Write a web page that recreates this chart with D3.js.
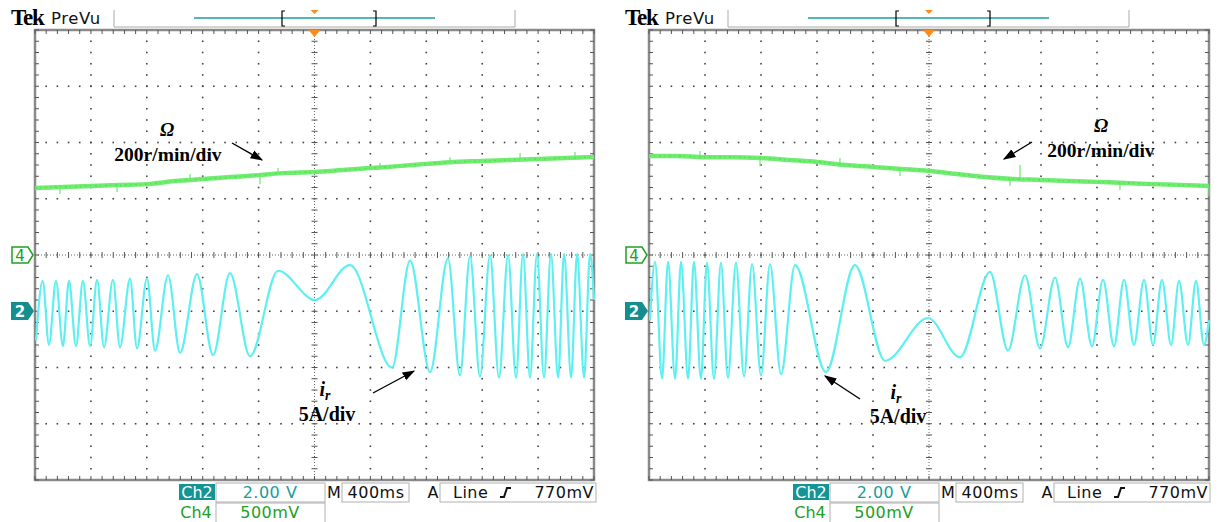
<!DOCTYPE html>
<html><head><meta charset="utf-8">
<script src="https://cdn.jsdelivr.net/npm/d3@7"></script>
<style>body{margin:0;background:#fff;} svg{display:block;}</style>
</head><body>
<svg id="c" width="1218" height="522"></svg>
<script>
// ---------- DATA ----------
// time in ms (400 ms/div, 10 div), speed in r/min (200 r/min/div), current in A (5 A/div)
const speedTimes = [0,200,400,600,800,1000,1200,1400,1600,1800,2000,2200,2400,2600,2800,3000,3200,3400,3600,3800,4000];
const speedLeft  = [238,242,245,249,252,263,270,277,284,292,295,302,309,316,324,331,334,338,341,345,348];
const speedRight = [352,352,348,348,345,338,331,320,313,306,299,288,277,270,267,263,260,256,252,249,245];
const spikeLeftTime  = [179,587,1109,1610,1739,2469,2970,3471,3864];
const spikeLeftVal   = [217,224,288,252,309,327,348,363,366];
const spikeRightTime = [364,793,1364,1793,2579,2650,3364,4000];
const spikeRightVal  = [370,316,345,281,245,320,231,210];

const currentLeftTime = [7,55,100,150,200,243,293,343,394,444,494,558,608,680,730,801,859,952,1038,1159,1274,1395,1539,1739,2004,2254,2555,2684,2827,2955,3041,3113,3184,3256,3320,3385,3442,3492,3542,3592,3642,3692,3743,3786,3836,3879,3929,3972,4000];
const currentLeft     = [-2.6,2.7,-3.0,2.7,-3.1,2.7,-3.1,2.7,-3.1,2.8,-3.2,2.8,-3.2,2.9,-3.3,2.9,-3.5,3.2,-3.7,3.3,-3.9,3.4,-4.0,3.6,1.0,4.1,-5.0,4.5,-5.4,4.7,-5.7,4.9,-5.8,5.0,-5.9,5.0,-5.9,5.1,-5.9,5.1,-5.9,5.1,-5.9,5.1,-5.9,5.1,-5.9,5.1,1.0];
const currentRightTime = [7,43,93,136,186,229,279,321,371,414,464,514,564,621,679,736,800,864,943,1043,1264,1471,1686,1993,2221,2436,2564,2686,2793,2900,2993,3079,3164,3243,3321,3393,3464,3536,3600,3664,3729,3786,3850,3907,3964,4000];
const currentRight     = [-0.8,4.4,-6.0,4.4,-6.0,4.4,-6.0,4.4,-6.0,4.3,-6.0,4.3,-5.9,4.3,-5.8,4.2,-5.7,4.2,-5.6,4.1,-5.4,4.1,-4.4,-0.6,-4.1,3.5,-3.5,3.2,-3.3,3.0,-3.2,2.9,-3.1,2.8,-3.1,2.8,-3.0,2.8,-3.0,2.8,-3.0,2.7,-3.0,2.7,-3.0,-0.8];

const readout = {ch2: "Ch2", ch2Scale: "2.00 V", ch4: "Ch4", ch4Scale: "500mV", time: "400ms", trig: "Line", level: "770mV"};

// ---------- DRAW ----------
const svg = d3.select("#c");
const defs = svg.append("defs");
defs.append("marker").attr("id","ah").attr("viewBox","0 0 10 10").attr("refX",9).attr("refY",5)
  .attr("markerWidth",9).attr("markerHeight",9).attr("orient","auto-start-reverse")
  .append("path").attr("d","M0,1.5 L10,5 L0,8.5 Z").attr("fill","#000");

const panels = [
  {ox:0, x0:35, x1:594, speed:speedLeft, spT:spikeLeftTime, spV:spikeLeftVal, cT:currentLeftTime, cV:currentLeft,
   omega:[167,136], omegaTxt:[168,161], omegaArrow:[[232,143],[262,160]], ir:[325,396], irTxt:[327,421], irArrow:[[373,393],[414,371]]},
  {ox:614, x0:649, x1:1209, speed:speedRight, spT:spikeRightTime, spV:spikeRightVal, cT:currentRightTime, cV:currentRight,
   omega:[1101,132], omegaTxt:[1101,157], omegaArrow:[[1032,142],[1004,159]], ir:[896,399], irTxt:[898,423], irArrow:[[860,399],[825,376]]}
];

const gTop = 30, gBot = 480;
const yDiv = d3.scaleLinear().domain([-4,4]).range([gBot, gTop]);
const yI = d3.scaleLinear().domain([-15,25]).range([gBot, gTop]);   // ground marker 2 at -1 div
const yW = d3.scaleLinear().domain([-800,800]).range([gBot, gTop]); // ground marker 4 at center

panels.forEach(p => {
  const g = svg.append("g");
  const x = d3.scaleLinear().domain([0,4000]).range([p.x0, p.x1]);
  const ox = p.ox;

  // header
  g.append("text").attr("x", 11+ox).attr("y", 25).text("Tek")
    .attr("font-family","Liberation Serif").attr("font-weight","bold").attr("font-size",23).attr("letter-spacing",-1.2);
  g.append("text").attr("x", 51+ox).attr("y", 24).text("PreVu")
    .attr("font-family","DejaVu Sans").attr("font-size",16.5).attr("fill","#111").attr("letter-spacing",0.6);
  g.append("path").attr("d",`M${114+ox},10 V27 H${515+ox} V10`).attr("fill","none").attr("stroke","#aaa").attr("stroke-width",1);
  g.append("line").attr("x1",194+ox).attr("x2",435+ox).attr("y1",18).attr("y2",18).attr("stroke","#1a9c9c").attr("stroke-width",1.5);
  g.append("path").attr("d",`M${285+ox},11 H${282+ox} V26 H${285+ox}`).attr("fill","none").attr("stroke","#000").attr("stroke-width",1.2);
  g.append("path").attr("d",`M${373+ox},11 H${376+ox} V26 H${373+ox}`).attr("fill","none").attr("stroke","#000").attr("stroke-width",1.2);
  g.append("path").attr("d",`M${x(2000)-4},10 H${x(2000)+4} L${x(2000)},14 Z`).attr("fill","#ff8c1a");

  // grid dots
  const majT = d3.range(400, 4000, 400), minT = d3.range(0, 4000.1, 80);
  const majD = d3.range(-3, 4, 1), minD = d3.range(-4, 4.01, 0.2);
  const dots = [];
  majT.filter(t => t !== 2000).forEach(t => minD.forEach(d => dots.push([x(t), yDiv(d)])));
  majD.filter(d => d !== 0).forEach(d => minT.forEach(t => dots.push([x(t), yDiv(d)])));
  g.selectAll(null).data(dots).join("rect")
    .attr("x", d => d[0]-0.8).attr("y", d => d[1]-0.8).attr("width",1.6).attr("height",1.6).attr("fill","#444");

  // center crosshair
  g.append("line").attr("x1",x(2000)).attr("x2",x(2000)).attr("y1",gTop).attr("y2",gBot)
    .attr("stroke","#666").attr("stroke-dasharray","1,2");
  g.append("line").attr("x1",p.x0).attr("x2",p.x1).attr("y1",yDiv(0)).attr("y2",yDiv(0))
    .attr("stroke","#666").attr("stroke-dasharray","1,2");
  g.selectAll(null).data(minD).join("line")
    .attr("x1", x(2000)-3).attr("x2", x(2000)+3).attr("y1", d=>yDiv(d)).attr("y2", d=>yDiv(d)).attr("stroke","#555");
  g.selectAll(null).data(minT).join("line")
    .attr("y1", yDiv(0)-3).attr("y2", yDiv(0)+3).attr("x1", t=>x(t)).attr("x2", t=>x(t)).attr("stroke","#555");

  // frame + border ticks
  g.append("rect").attr("x",p.x0).attr("y",gTop).attr("width",p.x1-p.x0).attr("height",gBot-gTop)
    .attr("fill","none").attr("stroke","#8a8a8a").attr("stroke-width",2.5);
  g.selectAll(null).data(minT).join("line").attr("x1",t=>x(t)).attr("x2",t=>x(t)).attr("y1",gTop).attr("y2",gTop+4).attr("stroke","#555");
  g.selectAll(null).data(minT).join("line").attr("x1",t=>x(t)).attr("x2",t=>x(t)).attr("y1",gBot).attr("y2",gBot-4).attr("stroke","#555");
  g.selectAll(null).data(minD).join("line").attr("y1",d=>yDiv(d)).attr("y2",d=>yDiv(d)).attr("x1",p.x0).attr("x2",p.x0+4).attr("stroke","#555");
  g.selectAll(null).data(minD).join("line").attr("y1",d=>yDiv(d)).attr("y2",d=>yDiv(d)).attr("x1",p.x1).attr("x2",p.x1-4).attr("stroke","#555");

  // trigger marker on graticule
  g.append("path").attr("d",`M${x(2000)-6},${gTop} H${x(2000)+6} L${x(2000)},${gTop+7} Z`).attr("fill","#ff8c1a");

  // channel markers
  g.append("path").attr("d",`M${12+ox},247 H${28+ox} L${33+ox},255 L${28+ox},263 H${12+ox} Z`)
    .attr("fill","#fff").attr("stroke","#22a022").attr("stroke-width",1.5);
  g.append("text").attr("x",20+ox).attr("y",261).attr("text-anchor","middle").text("4")
    .attr("font-family","DejaVu Sans").attr("font-size",15).attr("fill","#22a022");
  g.append("path").attr("d",`M${11+ox},302 H${28+ox} L${34+ox},311 L${28+ox},320 H${11+ox} Z`).attr("fill","#138f8f");
  g.append("text").attr("x",20+ox).attr("y",317).attr("text-anchor","middle").text("2")
    .attr("font-family","DejaVu Sans").attr("font-weight","bold").attr("font-size",15).attr("fill","#fff");

  // speed trace (noisy band)
  const sp = speedTimes.map((t,i)=>[t,p.speed[i]]);
  const lineW = d3.line().x(d=>x(d[0])).y(d=>yW(d[1])).curve(d3.curveMonotoneX);
  g.append("path").attr("d", lineW(sp)).attr("fill","none").attr("stroke","#70ec70").attr("stroke-width",4.5);
  g.append("path").attr("d", lineW(sp)).attr("fill","none").attr("stroke","#55e055").attr("stroke-width",1.5)
    .attr("stroke-dasharray","2,3,1,4");
  const interpW = t => { const i = d3.bisectLeft(speedTimes, t); if (i<=0) return p.speed[0]; if (i>=speedTimes.length) return p.speed[p.speed.length-1];
    const a=speedTimes[i-1], b=speedTimes[i]; return p.speed[i-1] + (p.speed[i]-p.speed[i-1])*(t-a)/(b-a); };
  g.selectAll(null).data(p.spT.map((t,i)=>[t,p.spV[i]])).join("line")
    .attr("x1",d=>x(d[0])).attr("x2",d=>x(d[0])).attr("y1",d=>yW(interpW(d[0]))).attr("y2",d=>yW(d[1]))
    .attr("stroke","#6ce86c").attr("stroke-width",1.2);

  // current trace
  const cur = p.cT.map((t,i)=>[t,p.cV[i]]);
  const lineI = d3.line().x(d=>x(d[0])).y(d=>yI(d[1])).curve(d3.curveMonotoneX);
  g.append("path").attr("d", lineI(cur)).attr("fill","none").attr("stroke","#5ef0f0").attr("stroke-width",2.2);

  // annotations
  const serif = "Liberation Serif";
  g.append("text").attr("x",p.omega[0]).attr("y",p.omega[1]).attr("text-anchor","middle").text("Ω")
    .attr("font-family",serif).attr("font-style","italic").attr("font-weight","bold").attr("font-size",19);
  g.append("text").attr("x",p.omegaTxt[0]).attr("y",p.omegaTxt[1]).attr("text-anchor","middle").text("200r/min/div")
    .attr("font-family",serif).attr("font-weight","bold").attr("font-size",19.5);
  g.append("line").attr("x1",p.omegaArrow[0][0]).attr("y1",p.omegaArrow[0][1]).attr("x2",p.omegaArrow[1][0]).attr("y2",p.omegaArrow[1][1])
    .attr("stroke","#000").attr("stroke-width",1.4).attr("marker-end","url(#ah)");
  const ir = g.append("text").attr("x",p.ir[0]).attr("y",p.ir[1]).attr("text-anchor","middle")
    .attr("font-family",serif).attr("font-style","italic").attr("font-weight","bold").attr("font-size",20);
  ir.append("tspan").text("i");
  ir.append("tspan").text("r").attr("font-size",14).attr("dy",4);
  g.append("text").attr("x",p.irTxt[0]).attr("y",p.irTxt[1]).attr("text-anchor","middle").text("5A/div")
    .attr("font-family",serif).attr("font-weight","bold").attr("font-size",20);
  g.append("line").attr("x1",p.irArrow[0][0]).attr("y1",p.irArrow[0][1]).attr("x2",p.irArrow[1][0]).attr("y2",p.irArrow[1][1])
    .attr("stroke","#000").attr("stroke-width",1.4).attr("marker-end","url(#ah)");

  // readout
  const f = "DejaVu Sans";
  const box = (bx,by,bw,bh) => g.append("rect").attr("x",bx+ox).attr("y",by).attr("width",bw).attr("height",bh)
    .attr("fill","#fff").attr("stroke","#b0b0b0").attr("stroke-width",1);
  g.append("rect").attr("x",179+ox).attr("y",484).attr("width",36).attr("height",16).attr("fill","#149494");
  g.append("text").attr("x",197+ox).attr("y",498).attr("text-anchor","middle").text(readout.ch2)
    .attr("font-family",f).attr("font-size",16).attr("fill","#fff");
  box(216,483,109,19);
  g.append("text").attr("x",270+ox).attr("y",498).attr("text-anchor","middle").text(readout.ch2Scale)
    .attr("font-family",f).attr("font-size",16).attr("fill","#1a9c9c").attr("letter-spacing",0.5);
  g.append("text").attr("x",196+ox).attr("y",518).attr("text-anchor","middle").text(readout.ch4)
    .attr("font-family",f).attr("font-size",16).attr("fill","#22a022");
  box(216,503,109,20);
  g.append("text").attr("x",270+ox).attr("y",518).attr("text-anchor","middle").text(readout.ch4Scale)
    .attr("font-family",f).attr("font-size",16).attr("fill","#22a022").attr("letter-spacing",0.5);
  g.append("text").attr("x",334+ox).attr("y",498).attr("text-anchor","middle").text("M")
    .attr("font-family",f).attr("font-size",16).attr("fill","#111");
  box(342,483,67,19);
  g.append("text").attr("x",376+ox).attr("y",498).attr("text-anchor","middle").text(readout.time)
    .attr("font-family",f).attr("font-size",16).attr("fill","#111").attr("letter-spacing",0.5);
  g.append("text").attr("x",433+ox).attr("y",498).attr("text-anchor","middle").text("A")
    .attr("font-family",f).attr("font-size",16).attr("fill","#111");
  box(440,483,156,19);
  g.append("text").attr("x",453+ox).attr("y",498).text(readout.trig)
    .attr("font-family",f).attr("font-size",16).attr("fill","#111").attr("letter-spacing",0.5);
  g.append("path").attr("d",`M${500+ox},497 H${504+ox} L${507+ox},488 H${511+ox}`).attr("fill","none").attr("stroke","#111").attr("stroke-width",2);
  g.append("text").attr("x",594+ox).attr("y",498).attr("text-anchor","end").text(readout.level)
    .attr("font-family",f).attr("font-size",16).attr("fill","#111").attr("letter-spacing",0.5);
});
</script>
</body></html>
